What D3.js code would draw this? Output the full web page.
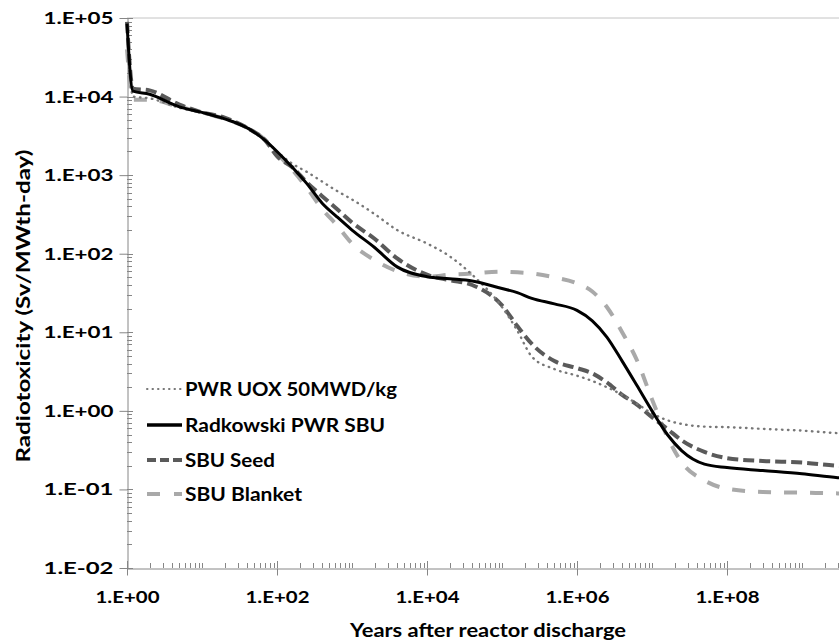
<!DOCTYPE html>
<html>
<head>
<meta charset="utf-8">
<script src="https://cdn.jsdelivr.net/npm/d3@7"></script>
<style>
  body { margin: 0; background: #fff; }
  svg { display: block; font-family: Lato, "Open Sans", sans-serif; font-weight: 700; }
</style>
</head>
<body>
<div class="graph-container"></div>
<script>
// years after discharge, shared by all series
const years = [1, 1.2, 2, 5, 10, 20, 40, 70, 100, 160, 250, 400, 630, 1000, 2000, 4000,
  1e4, 2e4, 4e4, 1e5, 1.6e5, 2.5e5, 5e5, 1e6, 1.6e6, 2.5e6, 4e6, 6.3e6, 1e7, 1.6e7,
  2.5e7, 5e7, 1e8, 3e8, 1e9, 3e9, 1e10];

const pwrUox = [79000, 10000, 9500, 7200, 6200, 5200, 4100, 2800, 2000, 1400, 1100, 830, 630, 490, 320, 200,
  135, 93, 54, 21, 10.5, 4.9, 3.4, 2.8, 2.4, 2.0, 1.6, 1.23, 0.93, 0.76,
  0.68, 0.63, 0.62, 0.59, 0.56, 0.52, 0.50];

const radkowski = [85000, 11700, 10700, 7400, 6300, 5200, 4000, 2750, 2000, 1260, 780, 440, 295, 200, 120, 68,
  51, 48, 45, 36, 32, 27, 23, 19, 14, 8.7, 4.3, 2.1, 1.0, 0.50,
  0.31, 0.21, 0.19, 0.174, 0.158, 0.141, 0.132];

const sbuSeed = [89000, 12600, 12000, 7900, 6300, 5400, 4000, 2750, 1740, 1260, 810, 540, 370, 250, 155, 87,
  54, 46, 40, 22, 12, 7.1, 4.3, 3.5, 3.0, 2.3, 1.6, 1.2, 0.83, 0.59,
  0.42, 0.30, 0.25, 0.23, 0.22, 0.20, 0.19];

const sbuBlanket = [40000, 9100, 9100, 7400, 6300, 5200, 4000, 2800, 1900, 1170, 690, 370, 230, 135, 83, 60,
  51, 54, 56, 59, 58, 56, 50, 42, 33, 21, 10, 4.4, 1.4, 0.47,
  0.22, 0.13, 0.102, 0.093, 0.091, 0.089, 0.087];

const seriesNames = ["PWR UOX 50MWD/kg", "Radkowski PWR SBU", "SBU Seed", "SBU Blanket"];
const yMajor = [1e-2, 1e-1, 1e0, 1e1, 1e2, 1e3, 1e4, 1e5];
const xMajor = [1e0, 1e2, 1e4, 1e6, 1e8];

const W = 839, H = 642;
const styles = [
  { color: "#777777", width: 2.4, dash: "0.5,5.5", cap: "round", legDash: "0.5,5", legW: 2 },
  { color: "#000000", width: 3, dash: null, cap: "butt", legDash: null, legW: 3.5 },
  { color: "#5a5a5a", width: 4, dash: "11,5", cap: "butt", legDash: "9,4", legW: 4 },
  { color: "#a9a9a9", width: 4, dash: "13,13", cap: "butt", legDash: "13,14", legW: 4 }
];

const svg = d3.select(".graph-container").append("svg")
  .attr("width", W).attr("height", H);

const x = d3.scaleLog().domain([1, 1e10]).range([127, 877]);
const y = d3.scaleLog().domain([1e-2, 1e5]).range([568, 18]);

const fmt = d => {
  const e = Math.round(Math.log10(d));
  return "1.E" + (e < 0 ? "-" : "+") + String(Math.abs(e)).padStart(2, "0");
};

// top border
svg.append("line").attr("x1", x(1)).attr("x2", W).attr("y1", y(1e5)).attr("y2", y(1e5))
  .attr("stroke", "#c4c4c4").attr("stroke-width", 1);

// minor ticks
const yMinor = [];
for (let e = -2; e < 5; e++) for (let k = 2; k <= 9; k++) yMinor.push(k * Math.pow(10, e));
const xMinor = [];
for (let e = 0; e < 10; e++) {
  for (let k = 2; k <= 9; k++) xMinor.push(k * Math.pow(10, e));
  if (e % 2 === 1) xMinor.push(Math.pow(10, e));
}

const axisColor = "#868686";

svg.append("g").selectAll("line").data(yMinor).enter().append("line")
  .attr("x1", x(1)).attr("x2", x(1) + 5)
  .attr("y1", d => Math.round(y(d)) + 0.5).attr("y2", d => Math.round(y(d)) + 0.5)
  .attr("stroke", axisColor);
svg.append("g").selectAll("line").data(xMinor).enter().append("line")
  .attr("y1", y(1e-2)).attr("y2", y(1e-2) - 5)
  .attr("x1", d => Math.round(x(d)) + 0.5).attr("x2", d => Math.round(x(d)) + 0.5)
  .attr("stroke", axisColor);
// inner part of major ticks
svg.append("g").selectAll("line").data(yMajor).enter().append("line")
  .attr("x1", x(1)).attr("x2", x(1) + 6)
  .attr("y1", d => Math.round(y(d)) + 0.5).attr("y2", d => Math.round(y(d)) + 0.5)
  .attr("stroke", axisColor);
svg.append("g").selectAll("line").data(xMajor).enter().append("line")
  .attr("y1", y(1e-2)).attr("y2", y(1e-2) - 7)
  .attr("x1", d => Math.round(x(d)) + 0.5).attr("x2", d => Math.round(x(d)) + 0.5)
  .attr("stroke", axisColor);

const yAxis = svg.append("g").attr("transform", `translate(${x(1) + 0.5},0)`)
  .call(d3.axisLeft(y).tickValues(yMajor).tickFormat(fmt).tickSize(8).tickPadding(6).tickSizeOuter(0));
const xAxis = svg.append("g").attr("transform", `translate(0,${y(1e-2) + 0.5})`)
  .call(d3.axisBottom(x).tickValues(xMajor).tickFormat(fmt).tickSize(7).tickPadding(15).tickSizeOuter(0));

[yAxis, xAxis].forEach(a => {
  a.select(".domain").attr("stroke", axisColor);
  a.selectAll(".tick line").attr("stroke", axisColor);
  a.selectAll(".tick text").attr("fill", "#000").attr("font-size", 17)
    .attr("font-family", "Lato, sans-serif").attr("font-weight", 700);
});
yAxis.selectAll(".tick text").attr("textLength", 70).attr("lengthAdjust", "spacingAndGlyphs");
xAxis.selectAll(".tick text").attr("textLength", 64).attr("lengthAdjust", "spacingAndGlyphs");

// titles
svg.append("text").attr("x", 488).attr("y", 637).attr("text-anchor", "middle")
  .attr("font-size", 19).attr("textLength", 276).attr("lengthAdjust", "spacingAndGlyphs")
  .text("Years after reactor discharge");
svg.append("text").attr("transform", "translate(30,306) rotate(-90)").attr("text-anchor", "middle")
  .attr("font-size", 19).attr("textLength", 313).attr("lengthAdjust", "spacingAndGlyphs")
  .text("Radiotoxicity (Sv/MWth-day)");

// lines
const allSeries = [pwrUox, radkowski, sbuSeed, sbuBlanket];
const line = d3.line().x(d => x(d[0])).y(d => y(d[1])).curve(d3.curveMonotoneX);
const plot = svg.append("g");
// draw order: blanket, seed, pwr, radkowski on top
[3, 2, 0, 1].forEach(i => {
  const s = styles[i];
  plot.append("path")
    .datum(years.map((t, j) => [t, allSeries[i][j]]))
    .attr("d", line)
    .attr("fill", "none")
    .attr("stroke", s.color)
    .attr("stroke-width", s.width)
    .attr("stroke-dasharray", s.dash)
    .attr("stroke-linecap", s.cap)
    .attr("stroke-linejoin", "round");
});

// legend
const legRows = [389, 425, 460, 494];
const legWidths = [212, 200, 90, 117];
const legend = svg.append("g");
seriesNames.forEach((name, i) => {
  const s = styles[i];
  legend.append("line").attr("x1", 147).attr("x2", 182)
    .attr("y1", legRows[i]).attr("y2", legRows[i])
    .attr("stroke", s.color).attr("stroke-width", s.legW)
    .attr("stroke-dasharray", s.legDash).attr("stroke-linecap", s.cap);
  legend.append("text").attr("x", 185).attr("y", legRows[i]).attr("dy", "0.36em")
    .attr("font-size", 19).attr("textLength", legWidths[i]).attr("lengthAdjust", "spacingAndGlyphs")
    .text(name);
});
</script>
</body>
</html>
